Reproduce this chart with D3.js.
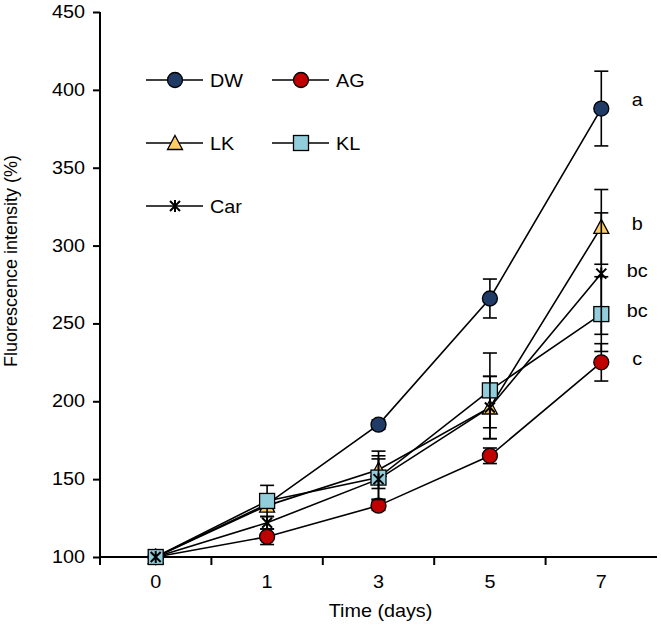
<!DOCTYPE html>
<html>
<head>
<meta charset="utf-8">
<script src="https://cdn.jsdelivr.net/npm/d3@7"></script>
<style>
  body { margin: 0; background: #fff; }
  text { font-family: "Liberation Sans", Arial, sans-serif; fill: #000; }
</style>
</head>
<body>
<svg id="chart" width="661" height="628"></svg>
<script>
// data
const days = ['0', '1', '3', '5', '7'];
const seriesNames = ['DW', 'AG', 'LK', 'KL', 'Car'];
const dwValues  = [100, 134, 185, 266, 388];
const agValues  = [100, 113, 133, 165, 225];
const lkValues  = [100, 133, 156, 196, 312];
const klValues  = [100, 136, 151, 207, 256];
const carValues = [100, 122, 150, 196, 282];
const dwErr  = [0, 3, 3, 12.5, 24];
const agErr  = [0, 5, 3, 5, 12];
const lkErr  = [0, 3, 12, 20, 24];
const klErr  = [0, 10, 14, 24, 24];
const carErr = [0, 4, 13, 20, 39];
const letters = ['a', 'c', 'b', 'bc', 'bc'];
const yTicks = [100, 150, 200, 250, 300, 350, 400, 450];

const fills = ['#1F3B66', '#C00000', '#FFCC66', '#92CDDC', '#000'];
const shapes = ['circle', 'circle', 'triangle', 'square', 'star'];
const errs = [dwErr, agErr, lkErr, klErr, carErr];
const series = [dwValues, agValues, lkValues, klValues, carValues].map((values, k) => ({
  name: seriesNames[k], values: values, err: errs[k], shape: shapes[k], fill: fills[k]
}));

const FONT = '18px';
const STRETCH = 1.1; // the reference text is a bit wider than plain Arial

const svg = d3.select('#chart');
const margin = { left: 100, right: 4, top: 12, bottom: 71 };
const width = 661 - margin.left - margin.right;
const height = 628 - margin.top - margin.bottom;

const g = svg.append('g').attr('transform', `translate(${margin.left},${margin.top})`);

const x = d3.scalePoint().domain(days).range([0, width]).padding(0.5);
const y = d3.scaleLinear().domain([100, 450]).range([height, 0]);

// horizontal text helper, scaled a touch wider
function addText(parent, tx, ty, str, anchor) {
  return parent.append('text')
    .attr('transform', `translate(${tx},${ty}) scale(${STRETCH},1)`)
    .attr('text-anchor', anchor || 'start')
    .style('font-size', FONT)
    .text(str);
}

// draws one marker centred on 0,0
function drawMarker(sel, shape, fill) {
  if (shape === 'circle') {
    sel.append('circle').attr('r', 7.5).attr('fill', fill)
      .attr('stroke', '#000').attr('stroke-width', 1.3);
  } else if (shape === 'square') {
    sel.append('rect').attr('x', -7.5).attr('y', -7.5).attr('width', 15).attr('height', 15)
      .attr('fill', fill).attr('stroke', '#000').attr('stroke-width', 1.3);
  } else if (shape === 'triangle') {
    sel.append('path').attr('d', 'M0,-7.5L7.5,6.5L-7.5,6.5Z').attr('fill', fill)
      .attr('stroke', '#000').attr('stroke-width', 1.3);
  } else {
    sel.append('path').attr('d', 'M-5,-5L5,5M-5,5L5,-5M0,-6L0,6')
      .attr('stroke', '#000').attr('stroke-width', 2).attr('fill', 'none');
  }
}

// axes
const yAxis = g.append('g').call(d3.axisLeft(y).tickValues(yTicks).tickSize(7).tickFormat(''));
const xAxis = g.append('g').attr('transform', `translate(0,${height})`)
  .call(d3.axisBottom(x).tickSize(0).tickFormat(''));

yTicks.forEach((t) => {
  addText(g, -15, y(t) + 6, String(t), 'end');
});
days.forEach((d) => {
  addText(g, x(d), height + 31, d, 'middle');
});

// x ticks sit between the categories
const step = x.step();
xAxis.selectAll('.boundary')
  .data(d3.range(days.length))
  .enter().append('line')
  .attr('x1', (d) => d * step).attr('x2', (d) => d * step)
  .attr('y1', 0).attr('y2', 8)
  .attr('stroke', '#000').attr('stroke-width', 2);

[yAxis, xAxis].forEach((a) => {
  a.select('.domain').attr('stroke', '#000').attr('stroke-width', 2);
  a.selectAll('.tick line').attr('stroke', '#000').attr('stroke-width', 2);
});
xAxis.select('.domain').attr('d', `M0,0H${width}`);
yAxis.select('.domain').attr('d', `M0,${height}V0`);

// lines first
const line = d3.line().x((d, i) => x(days[i])).y((d) => y(d));
series.forEach((s) => {
  g.append('path').datum(s.values).attr('d', line)
    .attr('fill', 'none').attr('stroke', '#000').attr('stroke-width', 1.6);
});

// error bars then markers, series by series
series.forEach((s) => {
  const sg = g.append('g');
  s.values.forEach((v, i) => {
    const e = s.err[i];
    if (e <= 0) return;
    const cx = x(days[i]);
    sg.append('line').attr('x1', cx).attr('x2', cx).attr('y1', y(v + e)).attr('y2', y(v - e))
      .attr('stroke', '#000').attr('stroke-width', 1.6);
    [v + e, v - e].forEach((t) => {
      sg.append('line').attr('x1', cx - 7).attr('x2', cx + 7).attr('y1', y(t)).attr('y2', y(t))
        .attr('stroke', '#000').attr('stroke-width', 1.6);
    });
  });
  s.values.forEach((v, i) => {
    const m = sg.append('g').attr('transform', `translate(${x(days[i])},${y(v)})`);
    drawMarker(m, s.shape, s.fill);
  });
});

// significance letters at day 7
series.forEach((s, k) => {
  const last = s.values[s.values.length - 1];
  addText(g, x('7') + 36, y(last) + (k === 0 ? -3 : 3), letters[k], 'middle');
});

// legend, two per row
series.forEach((s, k) => {
  const lx = 46 + (k % 2) * 126;
  const ly = 68 + Math.floor(k / 2) * 63;
  const lg = g.append('g').attr('transform', `translate(${lx},${ly})`);
  lg.append('line').attr('x1', 0).attr('x2', 57).attr('stroke', '#000').attr('stroke-width', 1.6);
  drawMarker(lg.append('g').attr('transform', 'translate(29,0)'), s.shape, s.fill);
  addText(lg, 64, 6.5, s.name, 'start');
});

// axis titles
svg.append('text')
  .attr('transform', 'translate(17,261) rotate(-90)')
  .attr('text-anchor', 'middle')
  .style('font-size', FONT)
  .text('Fluorescence intensity (%)');

addText(svg, margin.left + width / 2 + 2, 617, 'Time (days)', 'middle');
</script>
</body>
</html>
